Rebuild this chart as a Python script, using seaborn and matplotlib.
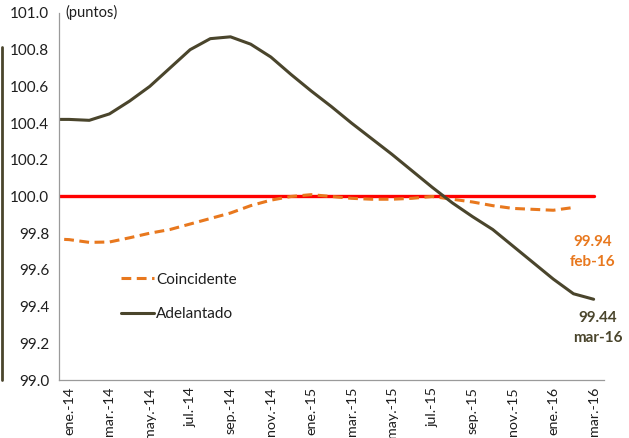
import numpy as np
import pandas as pd
import matplotlib
matplotlib.use('Agg')
import matplotlib.pyplot as plt
import seaborn as sns
from matplotlib.lines import Line2D

# months (dic-13 only feeds the clipped segment at the left edge)
meses = ['dic-13', 'ene-14', 'feb-14', 'mar-14', 'abr-14', 'may-14', 'jun-14', 'jul-14',
         'ago-14', 'sep-14', 'oct-14', 'nov-14', 'dic-14', 'ene-15', 'feb-15', 'mar-15',
         'abr-15', 'may-15', 'jun-15', 'jul-15', 'ago-15', 'sep-15', 'oct-15', 'nov-15',
         'dic-15', 'ene-16', 'feb-16', 'mar-16']
etiquetas = ['ene.-14', 'mar.-14', 'may.-14', 'jul.-14', 'sep.-14', 'nov.-14', 'ene.-15',
             'mar.-15', 'may.-15', 'jul.-15', 'sep.-15', 'nov.-15', 'ene.-16', 'mar.-16']

adelantado = [100.42, 100.42, 100.415, 100.45, 100.52, 100.60, 100.70, 100.80, 100.86,
              100.87, 100.83, 100.76, 100.665, 100.575, 100.49, 100.40, 100.315, 100.23,
              100.14, 100.05, 99.965, 99.89, 99.82, 99.73, 99.64, 99.55, 99.47, 99.44]
coincidente = [99.77, 99.765, 99.75, 99.752, 99.775, 99.80, 99.82, 99.85, 99.88, 99.91,
               99.95, 99.98, 100.0, 100.01, 100.0, 99.99, 99.985, 99.985, 99.99, 100.0,
               99.985, 99.97, 99.95, 99.935, 99.93, 99.925, 99.94, np.nan]
base = [100.0] * len(meses)

x = np.arange(len(meses)) - 1  # ene-14 -> 0
df = pd.DataFrame({'x': x, 'Adelantado': adelantado, 'Coincidente': coincidente, 'base': base})

sns.set_style('white')
plt.rcParams['font.family'] = ['Lato', 'DejaVu Sans']

orange = '#E8781E'
olive = '#4A452C'
txt = '#1E1E1E'

fig = plt.figure(figsize=(6.29, 4.38), dpi=100)
ax = fig.add_axes([0.0938, 0.1324, 0.866, 0.838])

sns.lineplot(data=df, x='x', y='base', ax=ax, color='#FF0000', lw=2.4)
sns.lineplot(data=df, x='x', y='Coincidente', ax=ax, color=orange, lw=2.2,
             linestyle=(0, (3.2, 1.8)))
sns.lineplot(data=df, x='x', y='Adelantado', ax=ax, color=olive, lw=2.2)

ax.set_xlim(-0.5, 26.5)
ax.set_ylim(99.0, 101.0)
yt = np.arange(99.0, 101.01, 0.2)
ax.set_yticks(yt)
ax.set_yticklabels([f'{v:.1f}' for v in yt], fontsize=11, color=txt)
ax.set_xticks(np.arange(0, 27, 2))
ax.set_xticklabels(etiquetas, rotation=90, fontsize=10.3, color=txt)
ax.set_xticks(np.arange(-0.5, 27, 2), minor=True)
ax.tick_params(axis='x', which='major', length=0, pad=5)
ax.tick_params(axis='x', which='minor', length=4, color='#9A9A9A', direction='out')
ax.tick_params(axis='y', length=4, color='#9A9A9A', direction='out', pad=3)
ax.set_xlabel('')
ax.set_ylabel('')
for s in ['top', 'right']:
    ax.spines[s].set_visible(False)
for s in ['left', 'bottom']:
    ax.spines[s].set_color('#9A9A9A')
    ax.spines[s].set_linewidth(0.9)

ax.text(0.012, 1.0, '(puntos)', transform=ax.transAxes, fontsize=10.5, color=txt,
        va='center', ha='left')

ax.text(25.95, 99.70, '99.94\nfeb-16', color=orange, fontsize=11, fontweight='bold',
        ha='center', va='center', linespacing=1.55)
ax.text(26.2, 99.283, '99.44\nmar-16', color=olive, fontsize=11, fontweight='bold',
        ha='center', va='center', linespacing=1.55)

handles = [Line2D([], [], color=orange, lw=2.2, linestyle=(0, (3.2, 1.8))),
           Line2D([], [], color=olive, lw=2.2)]
leg = ax.legend(handles, ['Coincidente', 'Adelantado'], loc='upper left',
                bbox_to_anchor=(0.088, 0.33), frameon=False, fontsize=11,
                handlelength=2.2, handletextpad=0.1, labelspacing=1.35)
for t in leg.get_texts():
    t.set_color(txt)

# dark frame remnant on the left edge
fig.add_artist(Line2D([0.003, 0.003], [1 - 47 / 438, 1 - 380 / 438], color=olive, lw=2.0))

plt.savefig('out.png', dpi=100)
